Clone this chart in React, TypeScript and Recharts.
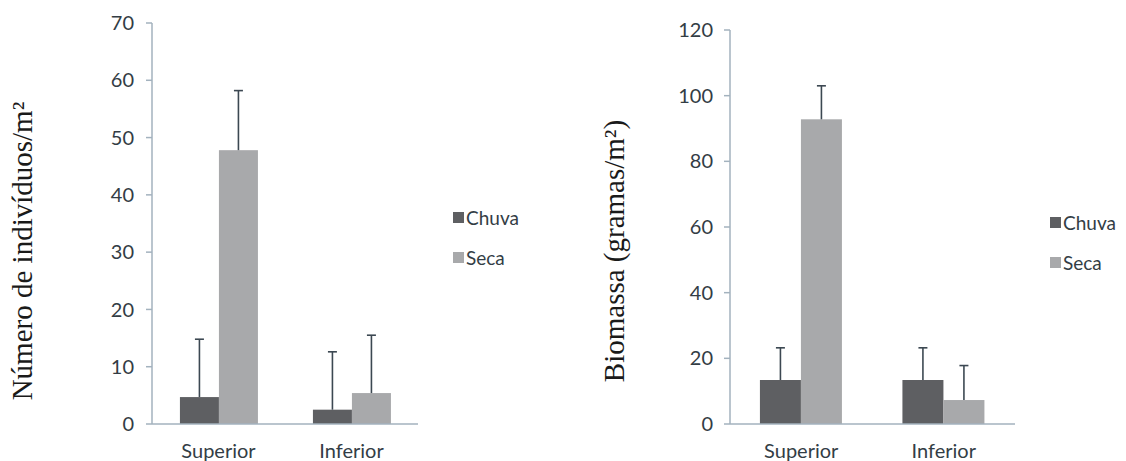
import { BarChart, Bar, XAxis, YAxis, Legend } from "recharts";

const categories = ["Superior", "Inferior"];
const seriesNames = ["Chuva", "Seca"];

const indChuva = [4.7, 2.5];
const indSeca = [47.8, 5.4];
const indChuvaErr = [10.1, 10.1];
const indSecaErr = [10.4, 10.1];
const indTicks = [0, 10, 20, 30, 40, 50, 60, 70];

const bioChuva = [13.4, 13.4];
const bioSeca = [92.8, 7.3];
const bioChuvaErr = [9.8, 9.8];
const bioSecaErr = [10.2, 10.5];
const bioTicks = [0, 20, 40, 60, 80, 100, 120];

const boundaryTicks = [0, 1, 2];

const CHUVA = "#5e5f62";
const SECA = "#a8a9ab";
const AXIS = "#a3b2be";
const TEXT = "#333d45";
const ERR = "#3c4852";
const SANS = "Lato, 'Open Sans', sans-serif";
const SERIF = "'Liberation Serif', 'DejaVu Serif', serif";

const build = (chuva: number[], seca: number[], ce: number[], se: number[]) =>
  categories.map((name, i) => ({ name, chuva: chuva[i], seca: seca[i], chuvaErr: ce[i], secaErr: se[i] }));

// bar + upward error whisker (Excel "plus" style), scaled from the bar's own pixel height
const withError = (valKey: string, errKey: string) => (props: any) => {
  const { x, y, width, height, fill, payload } = props;
  const v = payload[valKey];
  const k = v ? height / v : 0;
  const cx = x + width / 2;
  const top = y - payload[errKey] * k;
  return (
    <g>
      <rect x={x} y={y} width={width} height={height} fill={fill} />
      <line x1={cx} y1={y} x2={cx} y2={top} stroke={ERR} strokeWidth={1.6} />
      <line x1={cx - 4.5} y1={top} x2={cx + 4.5} y2={top} stroke={ERR} strokeWidth={1.6} />
    </g>
  );
};

const legendContent = () => (
  <div style={{ fontFamily: SANS, fontSize: 19, color: TEXT }}>
    {seriesNames.map((n, i) => (
      <div key={n} style={{ display: "flex", alignItems: "center", height: 22, marginBottom: i === 0 ? 18 : 0 }}>
        <span style={{ width: 11, height: 11, background: i === 0 ? CHUVA : SECA, marginRight: 2, display: "inline-block" }} />
        <span>{n}</span>
      </div>
    ))}
  </div>
);

interface PanelProps {
  data: any[];
  ticks: number[];
  title: string;
  titleX: number;
  margin: { top: number; right: number; bottom: number; left: number };
  legendLeft: number;
  legendTop: number;
  tickGap: number;
}

function Panel({ data, ticks, title, titleX, margin, legendLeft, legendTop, tickGap }: PanelProps) {
  const titleLabel = () => (
    <text
      x={titleX}
      y={251}
      transform={`rotate(-90, ${titleX}, 251)`}
      textAnchor="middle"
      dominantBaseline="central"
      fontFamily={SERIF}
      fontSize={29}
      fill="#1a1a1a"
    >
      {title}
    </text>
  );

  return (
    <BarChart width={563} height={461} data={data} margin={margin} barGap={0} barCategoryGap="21%">
      {/* frame axis (id 0 so it sits right on the plot): x axis line + category-boundary ticks */}
      <XAxis
        xAxisId={0}
        type="number"
        domain={[0, 2]}
        ticks={boundaryTicks}
        allowDataOverflow
        height={1}
        tick={false}
        axisLine={{ stroke: AXIS, strokeWidth: 1.5 }}
        tickLine={{ stroke: AXIS, strokeWidth: 1.5 }}
        tickSize={6}
      />
      <XAxis
        xAxisId={1}
        dataKey="name"
        height={36}
        axisLine={false}
        tickLine={false}
        tickSize={6}
        tickMargin={13}
        tick={{ fill: TEXT, fontSize: 20, fontFamily: SANS }}
      />
      <YAxis
        width={60}
        domain={[0, ticks[ticks.length - 1]]}
        ticks={ticks}
        interval={0}
        axisLine={{ stroke: AXIS, strokeWidth: 1.5 }}
        tickLine={{ stroke: AXIS, strokeWidth: 1.5 }}
        tickSize={6}
        tickMargin={tickGap}
        tick={{ fill: TEXT, fontSize: 20, fontFamily: SANS }}
        label={titleLabel}
      />
      <Legend
        layout="vertical"
        align="center"
        verticalAlign="middle"
        content={legendContent}
        wrapperStyle={{ left: legendLeft, top: legendTop, width: 90, height: 70 }}
      />
      <Bar xAxisId={1} dataKey="chuva" name="Chuva" fill={CHUVA} isAnimationActive={false} shape={withError("chuva", "chuvaErr")} />
      <Bar xAxisId={1} dataKey="seca" name="Seca" fill={SECA} isAnimationActive={false} shape={withError("seca", "secaErr")} />
    </BarChart>
  );
}

export default function App() {
  const indData = build(indChuva, indSeca, indChuvaErr, indSecaErr);
  const bioData = build(bioChuva, bioSeca, bioChuvaErr, bioSecaErr);
  return (
    <div style={{ position: "absolute", left: 0, top: 0, width: 1126, height: 461, background: "#fff", display: "flex" }}>
      <Panel
        data={indData}
        ticks={indTicks}
        title="Número de indivíduos/m²"
        titleX={22}
        margin={{ top: 23, right: 145, bottom: 0, left: 92 }}
        legendLeft={453}
        legendTop={206}
        tickGap={12}
      />
      <Panel
        data={bioData}
        ticks={bioTicks}
        title="Biomassa (gramas/m²)"
        titleX={51}
        margin={{ top: 30, right: 111, bottom: 0, left: 107 }}
        legendLeft={487}
        legendTop={211}
        tickGap={11}
      />
    </div>
  );
}
